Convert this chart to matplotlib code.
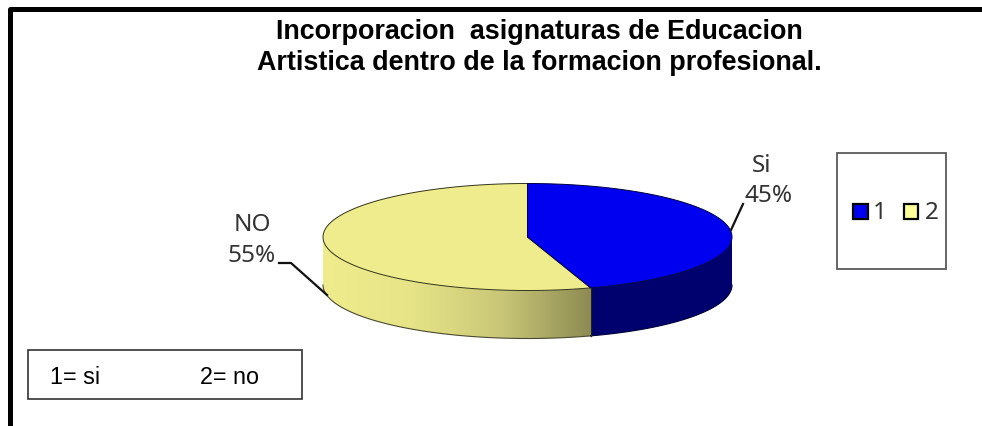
"""Pie chart (3D look) of Si/NO answers, drawn by hand on a pixel-sized axes."""
import numpy as np
import matplotlib
matplotlib.use("Agg")
import matplotlib.pyplot as plt
from matplotlib.colors import LinearSegmentedColormap
from matplotlib.patches import Polygon, Rectangle

TITLE_LINES = ["Incorporacion  asignaturas de Educacion",
               "Artistica dentro de la formacion profesional."]
SLICE_NAMES = ["Si", "NO"]
SLICE_VALUES = [45, 55]
LEGEND_KEYS = ["1", "2"]
NOTE_ITEMS = ["1= si", "2= no"]

BLUE = "#0000f0"
BLUE_DARK = "#00006e"
YELLOW = "#eeec8c"
LEGEND_YELLOW = "#ffff99"
LABEL_GREY = "#333333"

# ellipse geometry, in image pixels
CX, CY = 527.5, 238
RX, RY = 204.5, 53.5
DEPTH = 48

fig = plt.figure(figsize=(9.82, 4.27), dpi=100)
ax = fig.add_axes([0, 0, 1, 1])
ax.set_xlim(0, 982)
ax.set_ylim(427, 0)
ax.axis("off")


def rim(a0, a1, n=120):
    # angles clockwise from 12 o'clock, in degrees
    t = np.radians(np.linspace(a0, a1, n))
    return np.column_stack([CX + RX * np.sin(t), CY - RY * np.cos(t)])


# frame: only top and left edges
ax.plot([982, 10, 10], [9.5, 9.5, 427], color="black", lw=3.6, solid_joinstyle="round")

for i, line in enumerate(TITLE_LINES):
    ax.text(539, 32 + i * 30.5, line, ha="center", va="center", family="Liberation Sans",
            fontweight="bold", fontsize=19.4, color="black")

split = 360 * SLICE_VALUES[0] / sum(SLICE_VALUES)

# side wall, front half only
right_top = rim(90, split)
right_side = np.vstack([right_top, (right_top + [0, DEPTH])[::-1]])
ax.add_patch(Polygon(right_side, closed=True, fc=BLUE_DARK, ec="none", zorder=2))

left_top = rim(split, 270)
left_side = np.vstack([left_top, (left_top + [0, DEPTH])[::-1]])
clip = Polygon(left_side, closed=True, fc="none", ec="none", transform=ax.transData)
ax.add_patch(clip)
shade = LinearSegmentedColormap.from_list("side", ["#eeec8c", "#e6e487", "#c9c777", "#8d8b52"])
grad = ax.imshow(np.linspace(0, 1, 256)[None, :], cmap=shade, aspect="auto", zorder=2,
                 extent=(CX - RX, CX + RX * np.sin(np.radians(split)), CY + RY + DEPTH, CY - RY))
grad.set_clip_path(clip)
ax.set_xlim(0, 982)
ax.set_ylim(427, 0)

# outline of the walls
ax.plot(*(left_top + [0, DEPTH]).T, color="#4a4a30", lw=0.8, zorder=3)
ax.plot(*(right_top + [0, DEPTH]).T, color="#00003c", lw=0.8, zorder=3)
edge_x = CX + RX * np.sin(np.radians(split))
edge_y = CY - RY * np.cos(np.radians(split))
ax.plot([edge_x, edge_x], [edge_y, edge_y + DEPTH], color="#222210", lw=0.9, zorder=3)

# top faces
blue_top = np.vstack([[CX, CY], rim(0, split)])
yellow_top = np.vstack([[CX, CY], rim(split, 360)])
ax.add_patch(Polygon(yellow_top, closed=True, fc=YELLOW, ec="#33331a", lw=0.7, zorder=4))
ax.add_patch(Polygon(blue_top, closed=True, fc=BLUE, ec="#000040", lw=0.7, zorder=4))

# slice labels and leader lines
ax.plot([731, 743], [231, 205], color="#111111", lw=1.6, zorder=5)
ax.plot([279, 291, 327], [264, 264, 296], color="#111111", lw=1.6, zorder=5)
ax.text(762, 166, SLICE_NAMES[0], ha="center", va="center", family="Noto Sans",
        fontsize=17.5, color=LABEL_GREY)
ax.text(769, 196, f"{SLICE_VALUES[0]}%", ha="center", va="center", family="Noto Sans",
        fontsize=17.5, color=LABEL_GREY)
ax.text(252.5, 225, SLICE_NAMES[1], ha="center", va="center", family="Noto Sans",
        fontsize=17.5, color=LABEL_GREY)
ax.text(252, 256, f"{SLICE_VALUES[1]}%", ha="center", va="center", family="Noto Sans",
        fontsize=17.5, color=LABEL_GREY)

# legend box
ax.add_patch(Rectangle((837, 154), 109, 116, fc="white", ec="#595959", lw=1.3))
for key, x0, w, tx, col in zip(LEGEND_KEYS, [853, 904.5], [15.5, 14], [880, 932], [BLUE, LEGEND_YELLOW]):
    ax.add_patch(Rectangle((x0, 204.5), w, 15, fc=col, ec="black", lw=1.6))
    ax.text(tx, 213, key, ha="center", va="center", family="Noto Sans",
            fontsize=17.5, color=LABEL_GREY)

# note box
ax.add_patch(Rectangle((28, 351), 274, 49, fc="white", ec="#333333", lw=1.2))
ax.text(50, 377.5, NOTE_ITEMS[0], ha="left", va="center", family="Liberation Sans", fontsize=16.8, color="black")
ax.text(200, 377.5, NOTE_ITEMS[1], ha="left", va="center", family="Liberation Sans", fontsize=16.8, color="black")

fig.savefig("out.png", dpi=100)
